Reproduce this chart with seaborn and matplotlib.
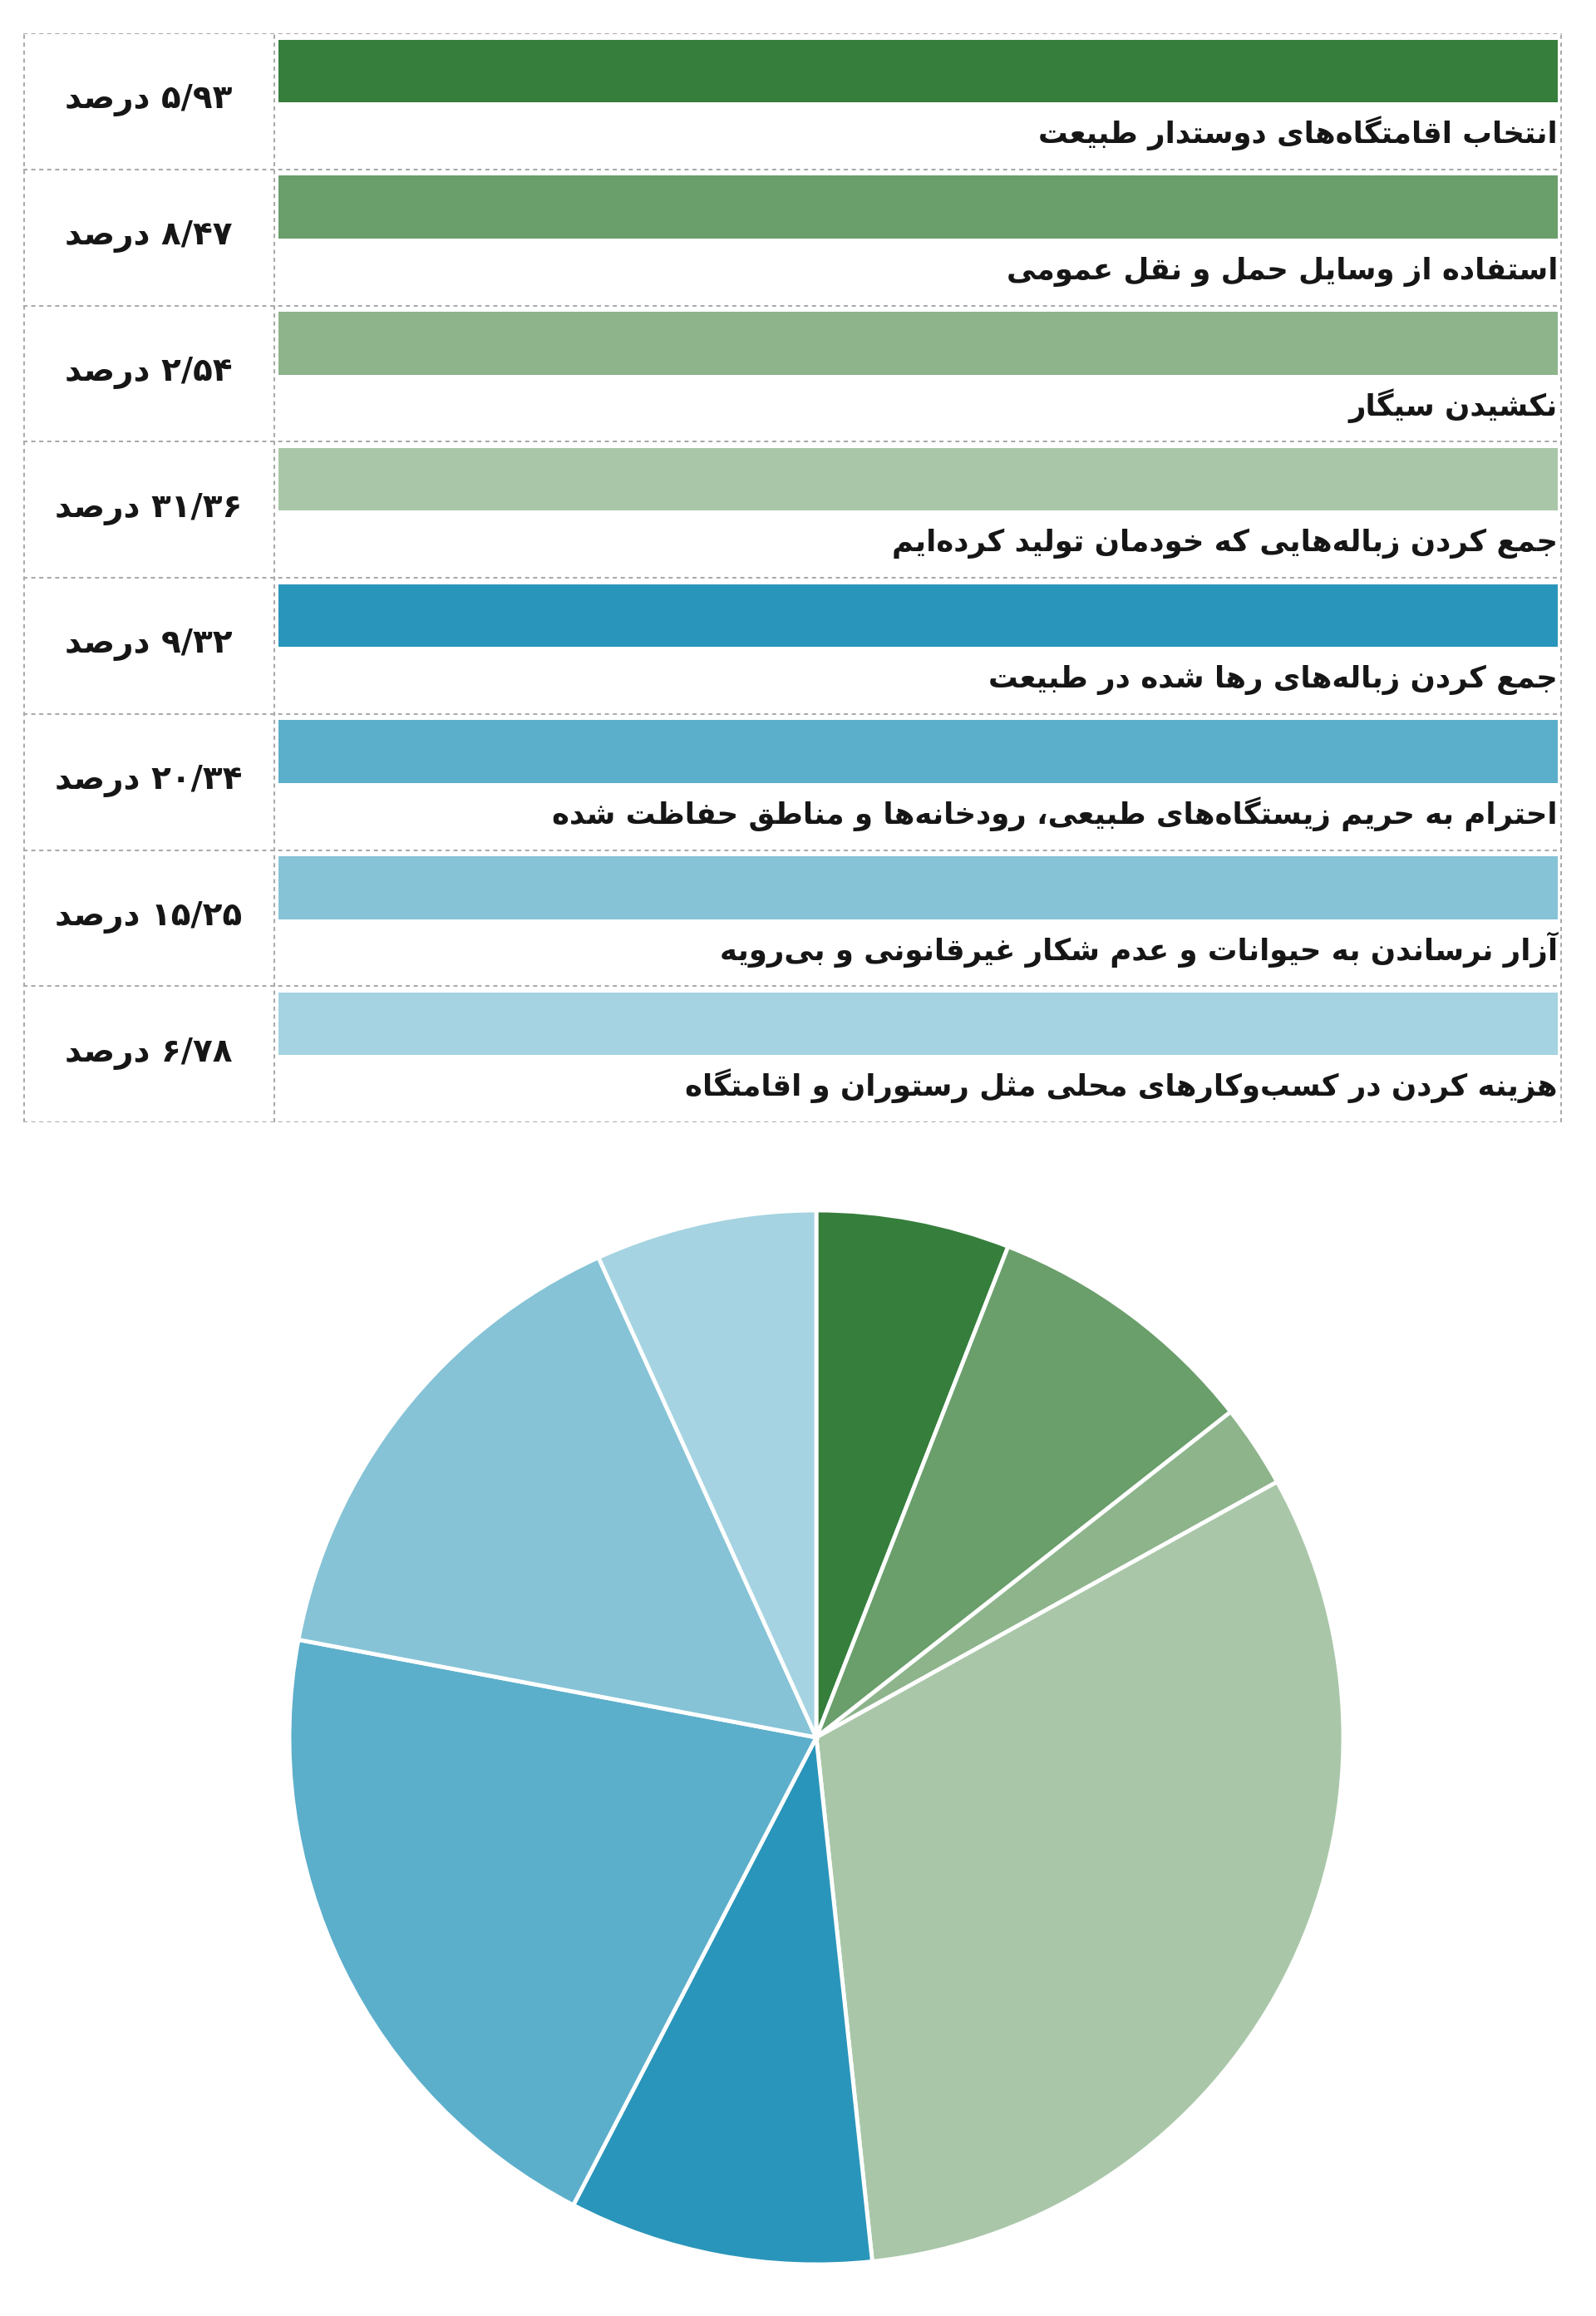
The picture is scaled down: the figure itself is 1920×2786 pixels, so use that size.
import numpy as np
import pandas as pd
import matplotlib
matplotlib.use("Agg")
import matplotlib.pyplot as plt
import seaborn as sns
from matplotlib import font_manager
from matplotlib.ft2font import FT2Font

# ---------------- data ----------------
categories = [
    "انتخاب اقامتگاه\u200cهای دوستدار طبیعت",
    "استفاده از وسایل حمل و نقل عمومی",
    "نکشیدن سیگار",
    "جمع کردن زباله\u200cهایی که خودمان تولید کرده\u200cایم",
    "جمع کردن زباله\u200cهای رها شده در طبیعت",
    "احترام به حریم زیستگاه\u200cهای طبیعی، رودخانه\u200cها و مناطق حفاظت شده",
    "آزار نرساندن به حیوانات و عدم شکار غیرقانونی و بی\u200cرویه",
    "هزینه کردن در کسب\u200cوکارهای محلی مثل رستوران و اقامتگاه",
]
values = [5.93, 8.47, 2.54, 31.36, 9.32, 20.34, 15.25, 6.78]
percent_labels = ["۵/۹۳", "۸/۴۷", "۲/۵۴", "۳۱/۳۶", "۹/۳۲", "۲۰/۳۴", "۱۵/۲۵", "۶/۷۸"]
unit_word = "درصد"
swatch_len = [100, 100, 100, 100, 100, 100, 100, 100]
colors = ["#367e3c", "#6a9e6b", "#8db48b", "#a9c7a8",
          "#2a95ba", "#5cafcb", "#86c3d6", "#a5d3e1"]

# ---------------- Persian shaping helper ----------------
sns.set_theme(style="white")
FONT = "DejaVu Sans"
plt.rcParams["font.family"] = [FONT]
_path = font_manager.findfont(font_manager.FontProperties(family=FONT, weight="bold"))
_cmap = FT2Font(_path).get_charmap()

_DUAL = {"ئ": 0xFE89, "ب": 0xFE8F, "ت": 0xFE95, "ث": 0xFE99, "ج": 0xFE9D, "ح": 0xFEA1,
         "خ": 0xFEA5, "س": 0xFEB1, "ش": 0xFEB5, "ص": 0xFEB9, "ض": 0xFEBD, "ط": 0xFEC1,
         "ظ": 0xFEC5, "ع": 0xFEC9, "غ": 0xFECD, "ف": 0xFED1, "ق": 0xFED5, "ك": 0xFED9,
         "ل": 0xFEDD, "م": 0xFEE1, "ن": 0xFEE5, "ه": 0xFEE9, "ي": 0xFEF1, "پ": 0xFB56,
         "چ": 0xFB7A, "ک": 0xFB8E, "گ": 0xFB92, "ی": 0xFBFC}
_RIGHT = {"آ": 0xFE81, "أ": 0xFE83, "ؤ": 0xFE85, "إ": 0xFE87, "ا": 0xFE8D, "ة": 0xFE93,
          "د": 0xFEA9, "ذ": 0xFEAB, "ر": 0xFEAD, "ز": 0xFEAF, "و": 0xFEED, "ى": 0xFEEF,
          "ژ": 0xFB8A}


def _g(cp, c):
    return chr(cp) if cp in _cmap else c


def rtl(text):
    ch = list(text)
    n = len(ch)
    out = []
    i = 0
    while i < n:
        c = ch[i]
        prev = ch[i - 1] if i > 0 else None
        nxt = ch[i + 1] if i + 1 < n else None
        jp = prev in _DUAL and (c in _DUAL or c in _RIGHT)
        if c == "ل" and nxt in ("ا", "آ"):
            base = 0xFEFB if nxt == "ا" else 0xFEF5
            out.append(_g(base + (1 if jp else 0), c + nxt))
            i += 2
            continue
        if c in _DUAL:
            jn = nxt is not None and (nxt in _DUAL or nxt in _RIGHT)
            off = 3 if (jp and jn) else 1 if jp else 2 if jn else 0
            out.append(_g(_DUAL[c] + off, c))
        elif c in _RIGHT:
            out.append(_g(_RIGHT[c] + (1 if jp else 0), c))
        elif c == "\u200c":
            pass
        else:
            out.append(c)
        i += 1
    return "".join(reversed(out))


# ---------------- figure ----------------
W, H = 1920, 2786
fig = plt.figure(figsize=(W / 100, H / 100), dpi=100)
fig.patch.set_facecolor("white")

# table region (pixels)
tx0, tx1, ty0, ty1 = 28, 1879, 40, 1350
ax = fig.add_axes([tx0 / W, 1 - ty1 / H, (tx1 - tx0) / W, (ty1 - ty0) / H])

df = pd.DataFrame({"cat": categories, "len": swatch_len})
sns.barplot(data=df, x="len", y="cat", hue="cat", palette=colors, orient="h",
            width=0.46, saturation=1, legend=False, ax=ax, linewidth=0)

bar_x0, bar_x1 = 335, 1874
scale = (bar_x1 - bar_x0) / 100.0
ax.set_xlim((tx0 - bar_x0) / scale, (tx1 - bar_x0) / scale)
nrow = len(categories)
ax.set_ylim(nrow - 0.277, -0.277)
ax.axis("off")

dash_kw = dict(color="#ababab", lw=1.5, linestyle=(0, (2.4, 2.2)), zorder=0)
for k in range(nrow + 1):
    ax.axhline(k - 0.277, **dash_kw)
for xp in (tx0 + 1, 330, tx1 - 1):
    ax.axvline((xp - bar_x0) / scale, **dash_kw)

label_x = 100
pct_x = ((tx0 + 330) / 2 - bar_x0) / scale
for i, (cat, p) in enumerate(zip(categories, percent_labels)):
    ax.text(label_x, i + 0.53, rtl(cat), ha="right", va="baseline",
            fontsize=25.6, fontweight="bold", color="#161616")
    ax.text(pct_x, i + 0.275, rtl(unit_word) + " " + p, ha="center", va="baseline",
            fontsize=28, fontweight="bold", color="#161616")

# pie
cx, cy, r = 982, 2090, 634
axp = fig.add_axes([(cx - r) / W, 1 - (cy + r) / H, 2 * r / W, 2 * r / H])
axp.pie(values, colors=colors, startangle=90, counterclock=False, radius=1,
        wedgeprops=dict(edgecolor="white", linewidth=3.5))
axp.set_xlim(-1, 1)
axp.set_ylim(-1, 1)
axp.set_aspect("equal")
axp.axis("off")

fig.savefig("out.png", dpi=100, facecolor="white")
